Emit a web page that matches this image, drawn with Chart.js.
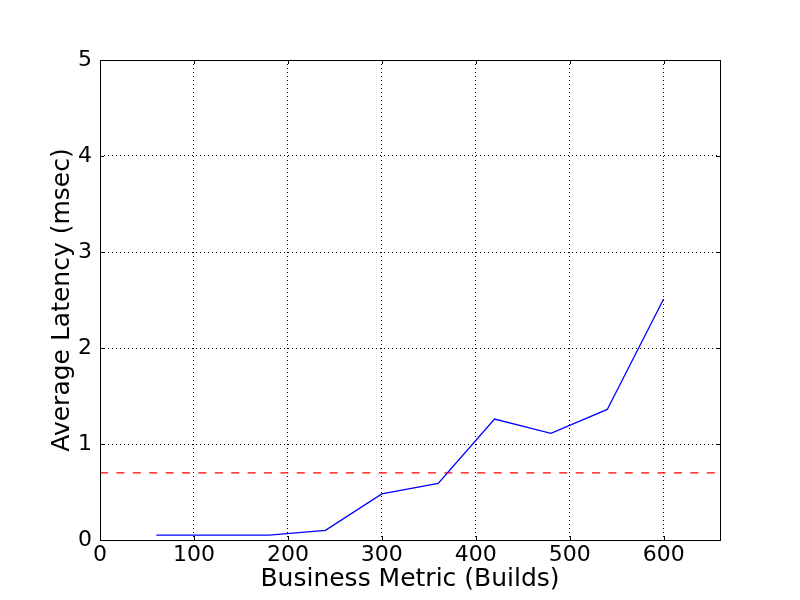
<!DOCTYPE html>
<html>
<head>
<meta charset="utf-8">
<script src="https://cdn.jsdelivr.net/npm/chart.js@4"></script>
<style>
  html, body { margin: 0; padding: 0; background: #fff; }
  #wrap { width: 800px; height: 600px; }
</style>
</head>
<body>
<div id="wrap"><canvas id="lineChart"></canvas></div>
<script>
  // data
  var builds = [60, 120, 180, 240, 300, 360, 420, 480, 540, 600];
  var latency = [0.05, 0.05, 0.05, 0.10, 0.48, 0.59, 1.26, 1.11, 1.36, 2.51];
  var thresholdX = [0, 660];
  var thresholdY = [0.7, 0.7];
  var xTicks = [0, 100, 200, 300, 400, 500, 600];
  var yTicks = [0, 1, 2, 3, 4, 5];

  var latencyPts = builds.map(function (b, i) { return { x: b, y: latency[i] }; });
  var thresholdPts = thresholdX.map(function (b, i) { return { x: b, y: thresholdY[i] }; });

  var FONT = "'DejaVu Sans', sans-serif";

  // frame + inward ticks, matplotlib style
  var framePlugin = {
    id: 'frame',
    afterDraw: function (chart) {
      var ctx = chart.ctx, a = chart.chartArea;
      var xs = chart.scales.x, ys = chart.scales.y;
      ctx.save();
      ctx.strokeStyle = '#000';
      ctx.lineWidth = 1;
      ctx.beginPath();
      xTicks.forEach(function (t) {
        var px = Math.round(xs.getPixelForValue(t)) + 0.5;
        ctx.moveTo(px, a.bottom); ctx.lineTo(px, a.bottom - 4);
        ctx.moveTo(px, a.top); ctx.lineTo(px, a.top + 4);
      });
      yTicks.forEach(function (t) {
        var py = Math.round(ys.getPixelForValue(t)) + 0.5;
        ctx.moveTo(a.left, py); ctx.lineTo(a.left + 4, py);
        ctx.moveTo(a.right, py); ctx.lineTo(a.right - 4, py);
      });
      ctx.stroke();
      ctx.strokeRect(a.left + 0.5, a.top + 0.5, a.right - a.left, a.bottom - a.top);
      ctx.restore();
    }
  };

  var ctxL = document.getElementById('lineChart').getContext('2d');
  var myLineChart = new Chart(ctxL, {
    type: 'line',
    data: {
      datasets: [{
        label: 'Latency',
        data: latencyPts,
        borderColor: '#0000ff',
        borderWidth: 1.3,
        pointRadius: 0,
        tension: 0,
        fill: false
      }, {
        label: 'Threshold',
        data: thresholdPts,
        borderColor: '#ff0000',
        borderWidth: 1.2,
        borderDash: [8, 8.4],
        pointRadius: 0,
        fill: false
      }]
    },
    options: {
      responsive: true,
      maintainAspectRatio: false,
      animation: false,
      events: [],
      layout: { padding: { top: 60, right: 80, left: 0, bottom: 0 } },
      plugins: { legend: { display: false }, tooltip: { enabled: false } },
      scales: {
        x: {
          type: 'linear',
          min: 0,
          max: 660,
          afterFit: function (s) { s.height = 60; },
          afterBuildTicks: function (s) { s.ticks = xTicks.map(function (v) { return { value: v }; }); },
          ticks: { color: '#000', font: { family: FONT, size: 22 }, padding: 2, maxRotation: 0 },
          grid: { color: '#000', lineWidth: 1, drawTicks: false },
          border: { display: false, dash: [1, 3] },
          title: { display: true, text: 'Business Metric (Builds)', color: '#000',
                   font: { family: FONT, size: 25 }, padding: { top: 0, bottom: 6 } }
        },
        y: {
          min: 0,
          max: 5,
          afterFit: function (s) { s.width = 100; },
          afterBuildTicks: function (s) { s.ticks = yTicks.map(function (v) { return { value: v }; }); },
          ticks: { color: '#000', font: { family: FONT, size: 22 }, padding: 8 },
          grid: { color: '#000', lineWidth: 1, drawTicks: false },
          border: { display: false, dash: [1, 3] },
          title: { display: true, text: 'Average Latency (msec)', color: '#000',
                   font: { family: FONT, size: 25 }, padding: { top: 47, bottom: 0 } }
        }
      }
    },
    plugins: [framePlugin]
  });
</script>
</body>
</html>
